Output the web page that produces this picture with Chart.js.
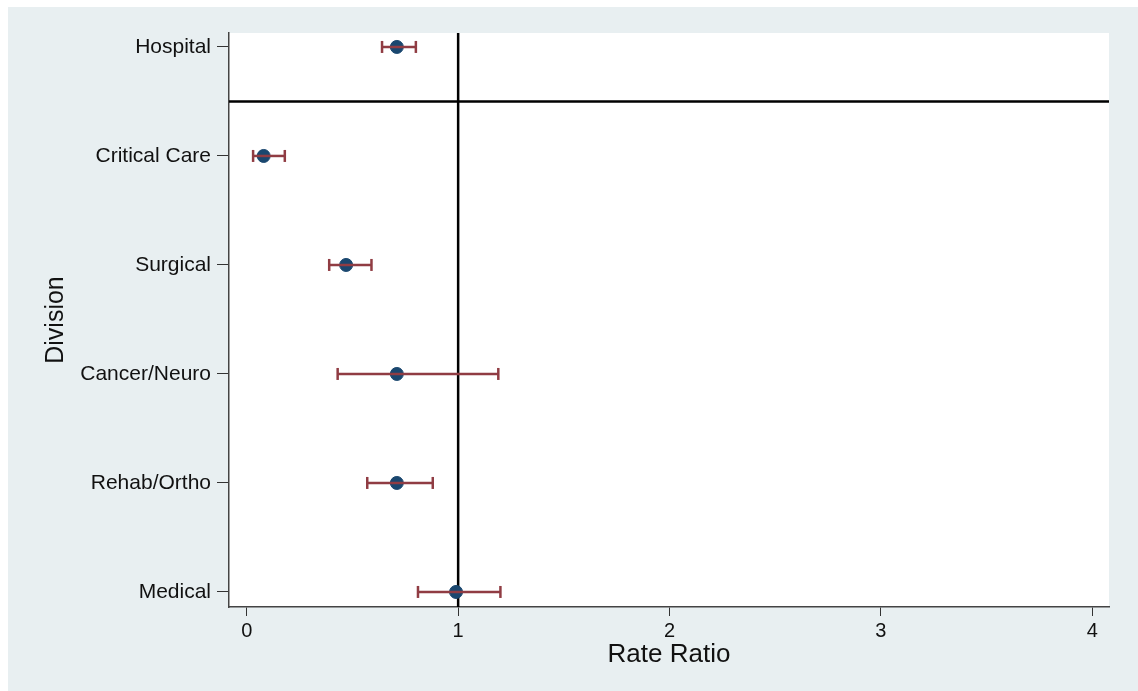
<!DOCTYPE html>
<html>
<head>
<meta charset="utf-8">
<script src="https://cdn.jsdelivr.net/npm/chart.js@4"></script>
<style>
  body { margin: 0; background: #fff; }
  #wrap { position: absolute; left: 8px; top: 7px; width: 1130px; height: 684px; background: #e8eff1; }
</style>
</head>
<body>
<div id="wrap"><canvas id="rrChart"></canvas></div>
<script>
// divisions, top to bottom
const divisions = ['Hospital', 'Critical Care', 'Surgical', 'Cancer/Neuro', 'Rehab/Ortho', 'Medical'];
const rateRatio = [0.71, 0.08, 0.47, 0.71, 0.71, 0.99];
const ciLow     = [0.64, 0.03, 0.39, 0.43, 0.57, 0.81];
const ciHigh    = [0.80, 0.18, 0.59, 1.19, 0.88, 1.20];
const xTicks = [0, 1, 2, 3, 4];
const refX = 1;     // null effect
const refY = 4.5;   // separator below Hospital

// y position: Medical at 0, Hospital at 5
const yPos = divisions.map((d, i) => divisions.length - 1 - i);

const ctx = document.getElementById('rrChart').getContext('2d');

const datasets = [{
    type: 'scatter',
    label: 'Rate ratio',
    data: rateRatio.map((v, i) => ({ x: v, y: yPos[i] })),
    backgroundColor: '#1a476f',
    borderColor: '#1a476f',
    pointRadius: 6.5,
    order: 2
}];

// one line per confidence interval, caps drawn as rotated line points
divisions.forEach((d, i) => {
    datasets.push({
        type: 'line',
        label: d + ' CI',
        data: [{ x: ciLow[i], y: yPos[i] }, { x: ciHigh[i], y: yPos[i] }],
        borderColor: '#903c43',
        borderWidth: 2.5,
        pointStyle: 'line',
        rotation: 90,
        pointRadius: 6,
        pointBorderWidth: 2.5,
        pointBorderColor: '#903c43',
        fill: false,
        order: 1
    });
});

const plotBg = {
    id: 'plotBg',
    beforeDraw(chart) {
        const { ctx, chartArea: a } = chart;
        ctx.save();
        ctx.fillStyle = '#ffffff';
        ctx.fillRect(a.left, a.top, a.right - a.left, a.bottom - a.top);
        ctx.restore();
    },
    beforeDatasetsDraw(chart) {
        const { ctx, chartArea: a, scales } = chart;
        const px = scales.x.getPixelForValue(refX);
        const py = scales.y.getPixelForValue(refY);
        ctx.save();
        ctx.strokeStyle = '#000';
        ctx.lineWidth = 2.5;
        ctx.beginPath();
        ctx.moveTo(px, a.top);
        ctx.lineTo(px, a.bottom);
        ctx.moveTo(a.left, py);
        ctx.lineTo(a.right, py);
        ctx.stroke();
        ctx.restore();
    }
};

new Chart(ctx, {
    type: 'scatter',
    data: { datasets },
    plugins: [plotBg],
    options: {
        responsive: true,
        maintainAspectRatio: false,
        animation: false,
        layout: { padding: { left: 0, top: 26, right: 29, bottom: 0 } },
        plugins: { legend: { display: false }, tooltip: { enabled: false } },
        scales: {
            x: {
                type: 'linear',
                min: -0.084, max: 4.079,
                afterBuildTicks: s => { s.ticks = xTicks.map(v => ({ value: v })); },
                afterFit: s => { s.height = 84; },
                ticks: { color: '#111', font: { family: 'Liberation Sans', size: 20 }, padding: 3 },
                grid: { drawOnChartArea: false, drawTicks: true, tickLength: 9, color: '#333' },
                border: { display: true, color: '#444', width: 1.5 },
                title: { display: true, text: 'Rate Ratio', color: '#111',
                         font: { family: 'Liberation Sans', size: 26 }, padding: { top: 0, bottom: 21 } }
            },
            y: {
                type: 'linear',
                min: -0.138, max: 5.128,
                afterBuildTicks: s => { s.ticks = yPos.map(v => ({ value: v })); },
                afterFit: s => { s.width = 221; },
                ticks: {
                    color: '#111', font: { family: 'Liberation Sans', size: 21 }, padding: 6,
                    callback: v => divisions[divisions.length - 1 - v]
                },
                grid: { drawOnChartArea: false, drawTicks: true, tickLength: 12, color: '#333' },
                border: { display: true, color: '#444', width: 1.5 },
                title: { display: true, text: 'Division', color: '#111',
                         font: { family: 'Liberation Sans', size: 25 }, padding: { top: 33, bottom: 0 } }
            }
        }
    }
});
</script>
</body>
</html>
